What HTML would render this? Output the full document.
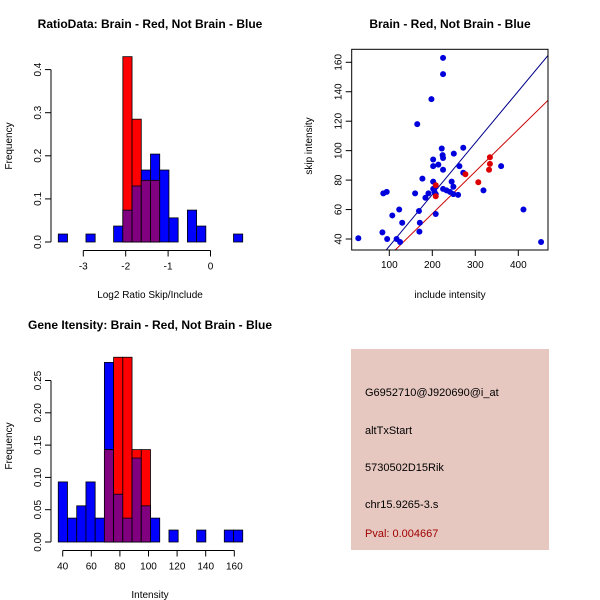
<!DOCTYPE html>
<html><head><meta charset="utf-8"><style>
body{margin:0;background:#fff}
svg{display:block;font-family:"Liberation Sans",sans-serif}
</style></head><body>
<svg id="c" width="600" height="600" xmlns="http://www.w3.org/2000/svg">
<rect width="600" height="600" fill="#fff"/>
<g id="p1"></g>
<g id="p2"></g>
<g id="p3"></g>
<g>
<rect x="351" y="349" width="198" height="201" fill="#e6c8c0"/>
<text x="365" y="396" font-size="11" fill="#000">G6952710@J920690@i_at</text>
<text x="365" y="434" font-size="11" fill="#000">altTxStart</text>
<text x="365" y="471" font-size="11" fill="#000">5730502D15Rik</text>
<text x="365" y="508" font-size="11" fill="#000">chr15.9265-3.s</text>
<text x="365" y="537" font-size="11" fill="#a00000">Pval: 0.004667</text>
</g>
</svg>
<script>
// ---- Panel 1 data: log2 ratio histogram ----
const ratioBinStart = -3.59;
const ratioBinWidth = 0.2175;
const ratioBlue = [0.0185,0,0,0.0185,0,0,0.037,0.074,0.13,0.167,0.204,0.167,0.056,0,0.074,0.037,0,0,0,0.0185];
const ratioRed  = [0,0,0,0,0,0,0,0.43,0.285,0.143,0.143,0,0,0,0,0,0,0,0,0];
const ratioXTicks = [-3,-2,-1,0];
const ratioYTicks = [0,0.1,0.2,0.3,0.4];
// ---- Panel 2 data: scatter ----
const blueX = [28,84,95,117,125,86,94,107,123,130,160,165,169,171,170,177,184,191,198,202,202,202,202,205,208,208,208,214,222,224,225,225,225,225,225,233,241,245,249,250,249,260,263,272,272,319,360,412,453];
const blueY = [40.5,44.5,40,40,38,71,72,56,60,51,71,118,59,51,45,81,68,71,135,79,89.5,94,74,72,75.5,70.5,57,90.5,101.5,97,95,152,163,87,74,73,72,79,75.5,98,70.5,70,89.5,85,102,73,89.5,60,38];
const redX = [208,208,277,307,334,334,332];
const redY = [76.5,69,84,78.5,95.5,91,87];
const blueLineSlope = 0.351, redLineSlope = 0.286;
const scatXTicks = [100,200,300,400];
const scatYTicks = [40,60,80,100,120,140,160];
// ---- Panel 3 data: intensity histogram ----
const intBinStart = 36.9;
const intBinWidth = 6.45;
const intBlue = [0.093,0.037,0.056,0.093,0.037,0.278,0.074,0.037,0.13,0.056,0.037,0,0.0185,0,0,0.0185,0,0,0.0185,0.0185];
const intRed  = [0,0,0,0,0,0.143,0.286,0.286,0.143,0.143,0,0,0,0,0,0,0,0,0,0];
const intXTicks = [40,60,80,100,120,140,160];
const intYTicks = [0,0.05,0.10,0.15,0.20,0.25];

const NS="http://www.w3.org/2000/svg";
function mk(parent,tag,attrs,text){const e=document.createElementNS(NS,tag);for(const k in attrs)e.setAttribute(k,attrs[k]);if(text!==undefined)e.textContent=text;parent.appendChild(e);return e;}

function hist(g,o){
  const sx=v=>o.x0+(v-o.xv0)*o.kx, sy=v=>o.y0-v*o.ky;
  for(let i=0;i<o.blue.length;i++){
    const a=o.start+i*o.w,b=a+o.w,bv=o.blue[i],rv=o.red[i];
    const x1=sx(a),x2=sx(b);
    if(bv>0){const r=mk(g,'rect',{x:x1,y:sy(bv),width:x2-x1,height:sy(0)-sy(bv),fill:'#0000ff',stroke:'#000','stroke-width':0.8});
      
      }
    if(rv>0){const r=mk(g,'rect',{x:x1,y:sy(rv),width:x2-x1,height:sy(0)-sy(rv),fill:'#ff0000',stroke:'#000','stroke-width':0.8});
      
      }
    const m=Math.min(bv,rv);
    if(m>0){const r=mk(g,'rect',{x:x1,y:sy(m),width:x2-x1,height:sy(0)-sy(m),fill:'#800080',stroke:'#000','stroke-width':0.8});
      
      }
  }
  // y axis
  const yt=o.yticks;
  mk(g,'line',{x1:o.yax,y1:sy(yt[0]),x2:o.yax,y2:sy(yt[yt.length-1]),stroke:'#000'});
  yt.forEach(t=>{mk(g,'line',{x1:o.yax,y1:sy(t),x2:o.yax-6,y2:sy(t),stroke:'#000'});
    const tx=mk(g,'text',{x:0,y:0,'font-size':10,'text-anchor':'middle',transform:`translate(${o.yax-10},${sy(t)}) rotate(-90)`},o.yfmt(t));
    
    });
  const xt=o.xticks;
  mk(g,'line',{x1:sx(xt[0]),y1:o.xay,x2:sx(xt[xt.length-1]),y2:o.xay,stroke:'#000'});
  xt.forEach(t=>{mk(g,'line',{x1:sx(t),y1:o.xay,x2:sx(t),y2:o.xay+6,stroke:'#000'});
    const tx=mk(g,'text',{x:sx(t),y:o.xay+19,'font-size':10,'text-anchor':'middle'},String(t));
    
    });
}

hist(document.getElementById('p1'),{start:ratioBinStart,w:ratioBinWidth,blue:ratioBlue,red:ratioRed,
  x0:83.3,xv0:-3,kx:42.4,y0:242,ky:431,yax:51,xay:250.5,xticks:ratioXTicks,yticks:ratioYTicks,yfmt:t=>t.toFixed(1)});
hist(document.getElementById('p3'),{start:intBinStart,w:intBinWidth,blue:intBlue,red:intRed,
  x0:62.7,xv0:40,kx:1.43,y0:542,ky:646,yax:51,xay:550.5,xticks:intXTicks,yticks:intYTicks,yfmt:t=>t.toFixed(2)});

// scatter
(function(){
  const g=document.getElementById('p2');
  const L=351.7,R=548,T=49.3,B=250;
  const sx=v=>389.3+(v-100)*0.43, sy=v=>239-(v-40)*1.4725;
  const xv=x=>100+(x-389.3)/0.43;
  mk(g,'clipPath',{id:'clip2'}).appendChild(document.createElementNS(NS,'rect'));
  const cr=g.querySelector('#clip2 rect');cr.setAttribute('x',L);cr.setAttribute('y',T);cr.setAttribute('width',R-L);cr.setAttribute('height',B-T);
  const lg=mk(g,'g',{'clip-path':'url(#clip2)'});
  const l1=mk(lg,'line',{x1:L,y1:sy(blueLineSlope*xv(L)),x2:R,y2:sy(blueLineSlope*xv(R)),stroke:'#00008b','stroke-width':1});
  
  
  const l2=mk(lg,'line',{x1:L,y1:sy(redLineSlope*xv(L)),x2:R,y2:sy(redLineSlope*xv(R)),stroke:'#cc0000','stroke-width':1});
  
  
  blueX.forEach((x,i)=>{const c=mk(lg,'circle',{cx:sx(x),cy:sy(blueY[i]),r:3,fill:'#0000dd'});
    
    });
  redX.forEach((x,i)=>{const c=mk(lg,'circle',{cx:sx(x),cy:sy(redY[i]),r:3,fill:'#dd0000'});
    
    });
  mk(g,'rect',{x:L,y:T,width:R-L,height:B-T,fill:'none',stroke:'#000'});
  scatXTicks.forEach(t=>{mk(g,'line',{x1:sx(t),y1:B,x2:sx(t),y2:B+6,stroke:'#000'});
    const tx=mk(g,'text',{x:sx(t),y:B+18,'font-size':10,'text-anchor':'middle'},String(t));
    
    });
  scatYTicks.forEach(t=>{mk(g,'line',{x1:L,y1:sy(t),x2:L-6,y2:sy(t),stroke:'#000'});
    const tx=mk(g,'text',{x:0,y:0,'font-size':10,'text-anchor':'middle',transform:`translate(${L-10},${sy(t)}) rotate(-90)`},String(t));
    
    });
})();
</script>
<svg width="600" height="600" style="position:absolute;left:0;top:0" xmlns="http://www.w3.org/2000/svg">
<g font-family="Liberation Sans, sans-serif">
<text x="150" y="28" font-size="12" font-weight="bold" text-anchor="middle">RatioData: Brain - Red, Not Brain - Blue</text>
<text x="450" y="28" font-size="12" font-weight="bold" text-anchor="middle">Brain - Red, Not Brain - Blue</text>
<text x="150" y="329" font-size="12" font-weight="bold" text-anchor="middle">Gene Itensity: Brain - Red, Not Brain - Blue</text>
<text x="150" y="298" font-size="10" text-anchor="middle">Log2 Ratio Skip/Include</text>
<text x="450" y="298" font-size="10" text-anchor="middle">include intensity</text>
<text x="150" y="598" font-size="10" text-anchor="middle">Intensity</text>
<text transform="translate(12,146) rotate(-90)" font-size="10" text-anchor="middle">Frequency</text>
<text transform="translate(312,146) rotate(-90)" font-size="10" text-anchor="middle">skip intensity</text>
<text transform="translate(12,446) rotate(-90)" font-size="10" text-anchor="middle">Frequency</text>
</g>
</svg>
</body></html>
